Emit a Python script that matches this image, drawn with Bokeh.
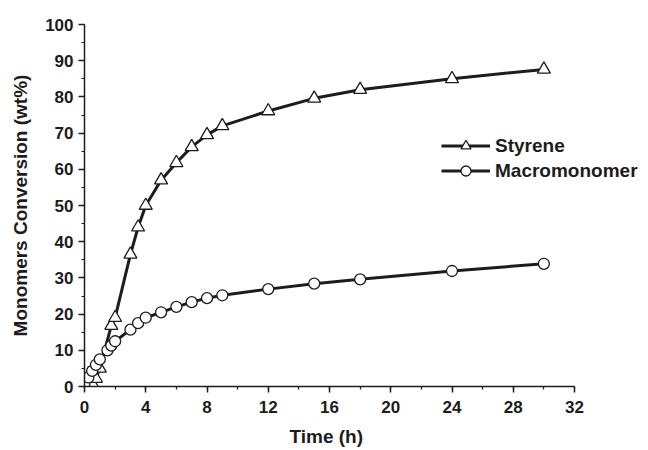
from bokeh.plotting import figure
from bokeh.models import Range1d, SingleIntervalTicker, Legend, LegendItem, Title
from bokeh.embed import file_html
from bokeh.resources import INLINE

# Data
styrene_t = [0, 0.5, 0.75, 1, 1.75, 2, 3, 3.5, 4, 5, 6, 7, 8, 9, 12, 15, 18, 24, 30]
styrene_y = [0, 0.8, 2.2, 5, 16.8, 19, 36.5, 44, 50, 57, 61.8, 66.2, 69.5, 72, 76.1, 79.6, 82, 85, 87.6]

macro_t = [0, 0.25, 0.5, 0.75, 1, 1.5, 1.75, 2, 3, 3.5, 4, 5, 6, 7, 8, 9, 12, 15, 18, 24, 30]
macro_y = [0.8, 2.5, 4.3, 6, 7.5, 10, 11.3, 12.5, 15.7, 17.5, 19, 20.5, 22, 23.3, 24.4, 25.2, 26.9, 28.4, 29.6, 31.9, 33.9]

x_label = "Time (h)"
y_label = "Monomers Conversion (wt%)"
series_names = ["Styrene", "Macromonomer"]

FONT = "Liberation Sans"
INK = "#1c1c1c"

# frame widened to the right so the legend (which extends past x=32) is not clipped;
# axis drawn only from 0 to 32 via bounds
AXIS_PX = 490
FRAME_W = 556
x_end = 32 * FRAME_W / AXIS_PX

p = figure(width=648, height=450, output_backend="svg", toolbar_location=None,
           x_range=Range1d(0, x_end), y_range=Range1d(0, 100),
           min_border_left=84, min_border_right=8, min_border_top=24, min_border_bottom=64,
           y_axis_label=y_label)
p.frame_width = FRAME_W
p.frame_height = 362
p.outline_line_color = None
p.grid.visible = False
p.background_fill_color = "white"
p.border_fill_color = "white"

p.xaxis.ticker = SingleIntervalTicker(interval=4, num_minor_ticks=2)
p.yaxis.ticker = SingleIntervalTicker(interval=10, num_minor_ticks=2)
p.xaxis.bounds = (0, 32)

for ax in (p.xaxis[0], p.yaxis[0]):
    ax.axis_line_width = 1.5
    ax.axis_line_color = INK
    ax.major_tick_line_color = INK
    ax.minor_tick_line_color = INK
    ax.major_tick_line_width = 1.5
    ax.minor_tick_line_width = 1.2
    ax.major_tick_in = 0
    ax.major_tick_out = 6
    ax.minor_tick_in = 0
    ax.minor_tick_out = 3
    ax.major_label_text_font = FONT
    ax.major_label_text_font_style = "bold"
    ax.major_label_text_font_size = "17px"
    ax.major_label_text_color = INK
    ax.axis_label_text_font = FONT
    ax.axis_label_text_font_style = "bold"
    ax.axis_label_text_font_size = "19px"
    ax.axis_label_text_color = INK

p.xaxis.major_label_standoff = 8
p.yaxis.major_label_standoff = 5
p.yaxis.axis_label_standoff = 11

# x-axis title centred under the 0..32 axis (not the widened frame)
xt = Title(text=x_label, align="left", offset=205, standoff=16,
           text_font=FONT, text_font_style="bold", text_font_size="19px",
           text_color=INK)
p.add_layout(xt, "below")

l1 = p.line(styrene_t, styrene_y, line_width=3, color=INK)
m1 = p.scatter(styrene_t, styrene_y, marker="triangle", size=13, fill_color="white",
               line_color=INK, line_width=1.3)
l2 = p.line(macro_t, macro_y, line_width=3, color=INK)
m2 = p.scatter(macro_t, macro_y, marker="circle", size=11, fill_color="white",
               line_color=INK, line_width=1.3)

legend = Legend(items=[LegendItem(label=series_names[0], renderers=[l1, m1]),
                       LegendItem(label=series_names[1], renderers=[l2, m2])],
                location=(357, 203))
legend.border_line_color = None
legend.background_fill_alpha = 0
legend.padding = 0
legend.margin = 0
legend.spacing = 0
legend.glyph_width = 49
legend.glyph_height = 25
legend.label_height = 25
legend.label_standoff = 5
legend.label_text_font = FONT
legend.label_text_font_style = "bold"
legend.label_text_font_size = "19px"
legend.label_text_color = INK
p.add_layout(legend, "center")

open("out.html", "w").write(file_html(p, INLINE))
